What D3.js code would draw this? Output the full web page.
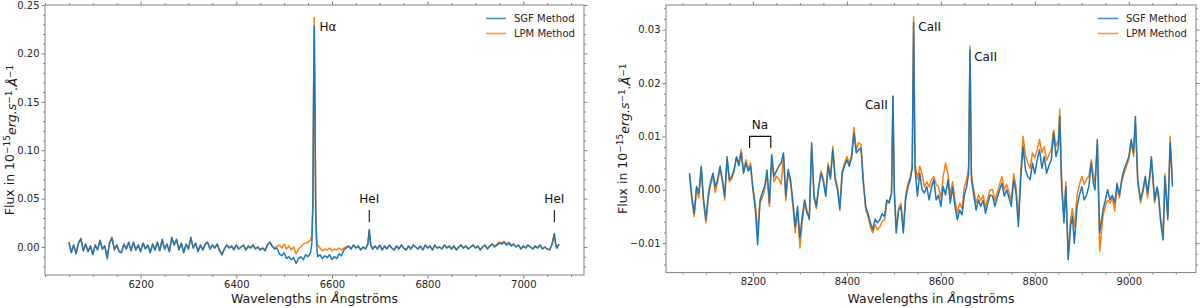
<!DOCTYPE html>
<html lang="en">
<head>
<meta charset="UTF-8">
<title>SGF vs LPM spectra</title>
<script src="https://d3js.org/d3.v7.min.js"></script>
<style>
  body { margin: 0; background: #fff; }
  svg { display: block; font-family: "DejaVu Sans", sans-serif; }
  .tick text { fill: #262626; font-size: 10px; font-family: "DejaVu Sans", sans-serif; }
  .tick line { stroke: #808080; }
</style>
</head>
<body>
<svg width="1200" height="308"></svg>
<script>
// Flux values below are in units of 1e-3 (x 10^-15 erg/s/A)
const seriesNames = ["SGF Method", "LPM Method"];

const leftWave = [
  6050,6055,6060,6065,6070,6075,6080,6085,6090,6095,
  6100,6105,6110,6115,6120,6125,6130,6135,6140,6145,
  6150,6155,6160,6165,6170,6175,6180,6185,6190,6195,
  6200,6205,6210,6215,6220,6225,6230,6235,6240,6245,
  6250,6255,6260,6265,6270,6275,6280,6285,6290,6295,
  6300,6305,6310,6315,6320,6325,6330,6335,6340,6345,
  6350,6355,6360,6365,6370,6375,6380,6385,6390,6395,
  6400,6405,6410,6415,6420,6425,6430,6435,6440,6445,
  6450,6455,6460,6465,6470,6475,6480,6485,6490,6495,
  6500,6505,6510,6515,6520,6525,6530,6535,6540,6545,
  6550,6555,6558,6560,6561.5,6563,6564.5,6566,6568,6570,
  6575,6580,6585,6590,6595,6600,6605,6610,6615,6620,
  6625,6630,6635,6640,6645,6650,6655,6660,6665,6670,
  6675,6678,6681,6685,6690,6695,6700,6705,6710,6715,
  6720,6725,6730,6735,6740,6745,6750,6755,6760,6765,
  6770,6775,6780,6785,6790,6795,6800,6805,6810,6815,
  6820,6825,6830,6835,6840,6845,6850,6855,6860,6865,
  6870,6875,6880,6885,6890,6895,6900,6905,6910,6915,
  6920,6925,6930,6935,6940,6945,6950,6955,6960,6965,
  6970,6975,6980,6985,6990,6995,7000,7005,7010,7015,
  7020,7025,7030,7035,7040,7045,7050,7055,7060,7065,
  7068,7070,7075
];
const leftSGF = [
  5,-6,2,-7,4,9,-4,3,-5,1,
  -8,2,-3,7,-2,1,-12,4,10,-3,
  2,-5,-6,3,-2,5,-4,5,-3,2,
  -5,4,-2,2,-6,3,-3,5,-4,8,
  -2,3,-5,10,2,8,-3,4,-6,3,
  -2,10,-1,4,-5,2,-3,3,5,-2,
  2,-1,3,-4,-8,-2,2,-1,1,-3,
  2,-2,0,2,-3,1,-1,2,-2,0,
  -3,-1,-4,2,5,1,-2,-1,-7,-9,
  -6,-12,-10,-13,-11,-17,-12,-10,-13,-8,
  -10,-6,4,40,150,228,140,35,2,-10,
  -8,-12,-9,-11,-8,-13,-10,-12,-7,-9,
  -3,-1,1,-2,2,-1,1,-3,0,-2,
  3,18,2,-2,1,-2,2,-3,1,-2,
  2,-1,-3,1,-2,2,-1,-3,1,-2,
  2,0,-2,1,-3,2,-1,1,-3,2,
  -1,0,-2,2,-1,1,-2,1,-3,0,
  2,-1,1,-2,0,2,-1,1,-3,0,
  2,-2,1,3,0,2,4,3,5,2,
  4,1,3,0,2,-2,1,-1,2,0,
  -2,1,-1,2,-2,0,-2,-3,3,14,
  2,-1,3
];
const leftLPM = [
  5,-5,2,-6,4,8,-3,3,-4,1,
  -7,2,-3,6,-2,1,-10,4,9,-2,
  2,-4,-5,3,-2,5,-3,5,-3,2,
  -4,4,-2,2,-5,3,-3,5,-3,7,
  -2,3,-4,9,2,7,-3,4,-5,3,
  -2,9,-1,4,-4,2,-3,3,5,-2,
  2,-1,3,-3,-7,-2,2,-1,1,-2,
  2,-2,0,2,-3,1,-1,2,-2,0,
  -3,-1,-3,2,5,1,-1,1,2,-1,
  3,-2,1,-3,0,-7,-2,0,3,4,
  5,7,12,45,160,237,150,40,8,2,
  -1,-4,-2,-3,-1,-4,-2,-3,-1,-3,
  -1,0,1,-2,2,-1,1,-3,0,-2,
  3,17,2,-2,1,-2,2,-3,1,-2,
  2,-1,-3,1,-2,2,-1,-3,1,-2,
  2,0,-2,1,-3,2,-1,1,-3,2,
  -1,0,-2,2,-1,1,-2,1,-3,0,
  2,-1,1,-2,0,2,-1,1,-3,0,
  2,-2,1,3,1,3,5,4,6,3,
  5,2,3,0,2,-2,1,-1,2,0,
  -2,1,-1,2,-2,0,-2,-3,2,13,
  2,-1,3
];

const rightWave = [
  8065,8070,8075,8080,8085,8090,8095,8100,8105,8110,
  8115,8120,8125,8130,8135,8140,8145,8150,8155,8160,
  8165,8170,8175,8180,8185,8190,8195,8200,8205,8210,
  8215,8220,8225,8230,8235,8240,8245,8250,8255,8260,
  8265,8270,8275,8280,8285,8290,8295,8300,8305,8310,
  8315,8320,8325,8330,8335,8340,8345,8350,8355,8360,
  8365,8370,8375,8380,8385,8390,8395,8400,8405,8410,
  8415,8420,8425,8430,8435,8440,8445,8450,8455,8460,
  8465,8470,8475,8480,8485,8490,8495,8498,8501,8505,
  8510,8515,8520,8525,8530,8535,8539,8542,8545,8550,
  8555,8560,8565,8570,8575,8580,8585,8590,8595,8600,
  8605,8610,8615,8620,8625,8630,8635,8640,8645,8650,
  8655,8659,8662,8665,8670,8675,8680,8685,8690,8695,
  8700,8705,8710,8715,8720,8725,8730,8735,8740,8745,
  8750,8755,8760,8765,8770,8775,8780,8785,8790,8795,
  8800,8805,8810,8815,8820,8825,8830,8835,8840,8845,
  8850,8853,8857,8862,8866,8871,8876,8880,8884,8890,
  8895,8900,8905,8910,8915,8920,8925,8928,8933,8938,
  8945,8950,8955,8960,8965,8970,8975,8980,8985,8990,
  8995,9000,9005,9010,9014,9019,9025,9030,9035,9040,
  9045,9048,9055,9060,9063,9068,9073,9077,9083,9088,
  9093
];
const rightSGF = [
  3.1,-1.2,-4.4,0.6,-0.6,4.4,-1.9,-5.6,-1,1.5,
  3.1,0.5,2,4.4,1.9,-1.2,6.2,1.9,2.5,3.8,
  6.2,4.5,6.9,3.1,5,3.5,4.4,0,-3.5,-10.3,
  -2,-0.5,0.6,3.7,-2.5,6.6,2.5,3.5,4.4,5,
  6.9,-1.2,3.8,1.9,-2,-6.9,-3.1,-9,-5,-1.9,
  -4,-5.6,8.8,-1,-3.1,0.6,3.1,1.5,-1.2,4.4,
  2,7.5,1.9,0,-3.8,3.1,4.5,5.6,4.4,6,
  10.6,6.9,7.5,7.8,1.2,-3.1,-4.5,-6.2,-7.5,-5.5,
  -6.2,-5.6,-4.5,-5,-1.9,-2.5,-0.6,17.5,-0.6,-8.1,
  -3.8,-3.1,-8.1,-1.9,0.5,1.9,4,31.3,4,-1.2,
  3.1,0,-0.6,0.6,-1.9,0.5,1.9,-1.9,-1,-3.1,
  0.6,-1,1.9,-2.5,0.5,-3.1,-5.6,-3.8,-4.7,-1,
  0.6,3,26.2,2,-1,-3.8,-1.9,-3.1,-2,-4.4,
  -2.5,-1,-1.2,-3.1,-1.5,0,1.2,-1.2,0,-1.5,
  -3.1,1.9,-0.6,-6.9,2,8.1,3.8,2.5,1.9,5,
  3,5.6,7.5,4,6.2,3.1,4.5,5.6,10.6,6.2,
  8,13.7,0.6,-6.2,0.6,-13.1,-6.9,-5,-10,-3.1,
  -1,0.6,-1.9,-1,0.6,5,1,0,9.4,-8.1,
  -3.8,-2,0,-1.9,-1,-2.5,1.2,-1,2,3.8,
  5,6.2,9.4,7,13.7,1.9,-1.9,0,2.5,-0.6,
  3,6.2,-1.9,0.5,-0.6,-6.2,-9.4,2.5,-5.6,8.8,
  0.6
];
const rightLPM = [
  2.5,-2,-5,0,-1.5,3.8,-2.5,-6.2,-1.5,1,
  2.5,-0.5,1.5,4,1.5,-1.9,5.6,1.5,2,3.5,
  6,5,7.5,3.5,5.6,4,5,0.5,-2.5,-8,
  -2.5,-1.5,0,3,-3.1,5.6,1.5,2.5,2,1,
  6.2,-2,3.1,1.2,-3,-8,-4,-10.9,-6,-2.5,
  -4.5,-5,8.1,-1.5,-3.5,0.5,3.5,2,-1,5,
  2.5,8.1,2.5,0.5,-3.1,3.5,5,6.2,5,6.5,
  11.7,7.5,8.8,8.5,1.9,-3.8,-5,-7,-8.1,-6.5,
  -7.5,-7,-6,-5.6,-2.5,-2,-0.5,17.5,0,-7.5,
  -3.5,-2.5,-7.5,-1,1.2,2.5,4.5,32.4,5,2,
  4.4,3,0.5,1.5,0.5,1.9,2.5,1,0.5,-1.5,
  2.5,5,3,-1,1.5,-2,-4.4,-2.5,-3.5,0.5,
  2,4,26.9,3,0,-2.5,-1,-2,-1,-3.5,
  -1.5,0,0,-2,-0.5,1,2.5,0,1,-0.5,
  -2,3,0.5,-5.6,3.5,10,6.5,5,4,6.9,
  6,7.5,9.4,7,8.1,5.5,6.5,7.5,11.2,8.1,
  9.4,15.1,2,-5,1.5,-12.5,-5.6,-3.5,-7,-1,
  1,2.5,1,2,2.5,5.6,2.5,1.5,8.5,-11.5,
  -5,-3,-2,-2.5,-1.5,-4,0.5,-1.5,1.5,3.1,
  4.4,5.6,8.8,6.2,12.5,1.2,-2.5,-0.5,2,-1.5,
  2.5,5.6,-2.5,0,-1.5,-5.6,-8.1,3,-5,10,
  1.2
];

const leftXTicks = [6200, 6400, 6600, 6800, 7000];
const leftYTicks = [0, 0.05, 0.10, 0.15, 0.20, 0.25];
const rightXTicks = [8200, 8400, 8600, 8800, 9000];
const rightYTicks = [-0.01, 0, 0.01, 0.02, 0.03];

// line identifications (wavelength in A, flux where the label sits)
const leftLabels = [
  { text: "Hα", wave: 6574, flux: 0.228, anchor: "start" },
  { text: "HeI", wave: 6678, flux: 0.0497, anchor: "middle" },
  { text: "HeI", wave: 7065, flux: 0.0497, anchor: "middle" }
];
const leftMarkers = [
  { wave: 6678, from: 0.0255, to: 0.0383 },
  { wave: 7065, from: 0.0255, to: 0.0383 }
];
const rightLabels = [
  { text: "Na", wave: 8215, flux: 0.0121, anchor: "middle" },
  { text: "CaII", wave: 8487, flux: 0.0159, anchor: "end" },
  { text: "CaII", wave: 8552, flux: 0.0306, anchor: "start" },
  { text: "CaII", wave: 8671, flux: 0.0250, anchor: "start" }
];
const naBracket = [[8193, 0.0078], [8193, 0.0100], [8238, 0.0100], [8238, 0.0078]];

const colors = { "SGF Method": "#1f77b4", "LPM Method": "#ff7f0e" };
const svg = d3.select("svg");

function toPoints(wave, flux) {
  return wave.map((w, i) => ({ w: w, f: flux[i] * 1e-3 }));
}

function drawPanel(p) {
  const x = d3.scaleLinear().domain(p.xDomain).range([p.left, p.right]);
  const y = d3.scaleLinear().domain(p.yDomain).range([p.bottom, p.top]);
  const g = svg.append("g");

  // minor ticks every 50 A on x, p.yMinor on y
  const xMinor = d3.range(Math.ceil(p.xDomain[0] / 50) * 50, p.xDomain[1], 50)
    .filter(v => !p.xTicks.includes(v));
  const yMinor = d3.range(Math.ceil(p.yDomain[0] / p.yMinor), Math.floor(p.yDomain[1] / p.yMinor) + 1)
    .map(k => +(k * p.yMinor).toFixed(4))
    .filter(v => !p.yTicks.some(t => Math.abs(t - v) < 1e-6));

  const sides = [
    [d3.axisBottom, x, `translate(0,${p.bottom})`, p.xTicks, xMinor, d3.format("d")],
    [d3.axisTop, x, `translate(0,${p.top})`, p.xTicks, xMinor, null],
    [d3.axisLeft, y, `translate(${p.left},0)`, p.yTicks, yMinor, d3.format(".2f")],
    [d3.axisRight, y, `translate(${p.right},0)`, p.yTicks, yMinor, null]
  ];
  sides.forEach(([fn, sc, tr, major, minor, fmt]) => {
    g.append("g").attr("transform", tr)
      .call(fn(sc).tickValues(minor).tickSize(2).tickFormat(""))
      .call(a => a.select(".domain").remove());
    g.append("g").attr("transform", tr)
      .call(fn(sc).tickValues(major).tickSize(3.5).tickPadding(2).tickFormat(fmt || ""))
      .call(a => a.select(".domain").remove());
  });

  const line = d3.line().x(d => x(d.w)).y(d => y(d.f));
  // LPM first so SGF sits on top
  [["LPM Method", p.lpm], ["SGF Method", p.sgf]].forEach(([name, vals]) => {
    g.append("path")
      .datum(toPoints(p.wave, vals))
      .attr("fill", "none")
      .attr("stroke", colors[name])
      .attr("stroke-width", 1.5)
      .attr("stroke-linejoin", "round")
      .attr("d", line);
  });

  g.append("rect")
    .attr("x", p.left).attr("y", p.top)
    .attr("width", p.right - p.left).attr("height", p.bottom - p.top)
    .attr("fill", "none").attr("stroke", "#8c8c8c").attr("stroke-width", 1.1);

  // annotations
  g.selectAll(null).data(p.labels).join("text")
    .attr("x", d => x(d.wave)).attr("y", d => y(d.flux))
    .attr("dy", "0.36em")
    .attr("text-anchor", d => d.anchor)
    .attr("font-size", 12).attr("fill", "#111")
    .text(d => d.text);
  g.selectAll(null).data(p.markers || []).join("line")
    .attr("x1", d => x(d.wave)).attr("x2", d => x(d.wave))
    .attr("y1", d => y(d.from)).attr("y2", d => y(d.to))
    .attr("stroke", "#111").attr("stroke-width", 1.1);
  if (p.bracket) {
    g.append("path")
      .attr("d", d3.line().x(d => x(d[0])).y(d => y(d[1]))(p.bracket))
      .attr("fill", "none").attr("stroke", "#111").attr("stroke-width", 1.2);
  }

  // legend
  seriesNames.forEach((name, i) => {
    const ly = p.top + 13.5 + i * 15;
    g.append("line")
      .attr("x1", p.right - 98).attr("x2", p.right - 78)
      .attr("y1", ly).attr("y2", ly)
      .attr("stroke", colors[name]).attr("stroke-width", 1.5).attr("opacity", 0.85);
    g.append("text")
      .attr("x", p.right - 70).attr("y", ly + 3.6)
      .attr("font-size", 10).attr("fill", "#262626")
      .text(name);
  });

  // x label
  const xl = g.append("text")
    .attr("x", (p.left + p.right) / 2).attr("y", 302.5)
    .attr("text-anchor", "middle").attr("font-size", 12.5).attr("fill", "#1a1a1a");
  xl.append("tspan").text("Wavelengths in ");
  xl.append("tspan").attr("font-style", "italic").text("Å");
  xl.append("tspan").text("ngströms");

  // y label
  const yl = g.append("text")
    .attr("transform", `translate(${p.ylabelX},${(p.top + p.bottom) / 2}) rotate(-90)`)
    .attr("text-anchor", "middle").attr("font-size", 12.5).attr("fill", "#1a1a1a");
  yl.append("tspan").text("Flux in 10");
  yl.append("tspan").attr("font-size", 9).attr("dy", "-0.45em").text("−15");
  yl.append("tspan").attr("font-style", "italic").attr("dy", "0.45em").text("erg.s");
  yl.append("tspan").attr("font-size", 9).attr("dy", "-0.45em").text("−1");
  yl.append("tspan").attr("font-style", "italic").attr("dy", "0.45em").text(".Å");
  yl.append("tspan").attr("font-size", 9).attr("dy", "-0.45em").text("−1");
}

drawPanel({
  left: 45, right: 584, top: 5, bottom: 275,
  xDomain: [6000, 7127], yDomain: [-0.0289, 0.25], yMinor: 0.01,
  xTicks: leftXTicks, yTicks: leftYTicks,
  wave: leftWave, sgf: leftSGF, lpm: leftLPM,
  labels: leftLabels, markers: leftMarkers, ylabelX: 14
});
drawPanel({
  left: 666, right: 1196, top: 5, bottom: 272.5,
  xDomain: [8015, 9143], yDomain: [-0.0155, 0.0346], yMinor: 0.002,
  xTicks: rightXTicks, yTicks: rightYTicks,
  wave: rightWave, sgf: rightSGF, lpm: rightLPM,
  labels: rightLabels, bracket: naBracket, ylabelX: 627
});
</script>
</body>
</html>
